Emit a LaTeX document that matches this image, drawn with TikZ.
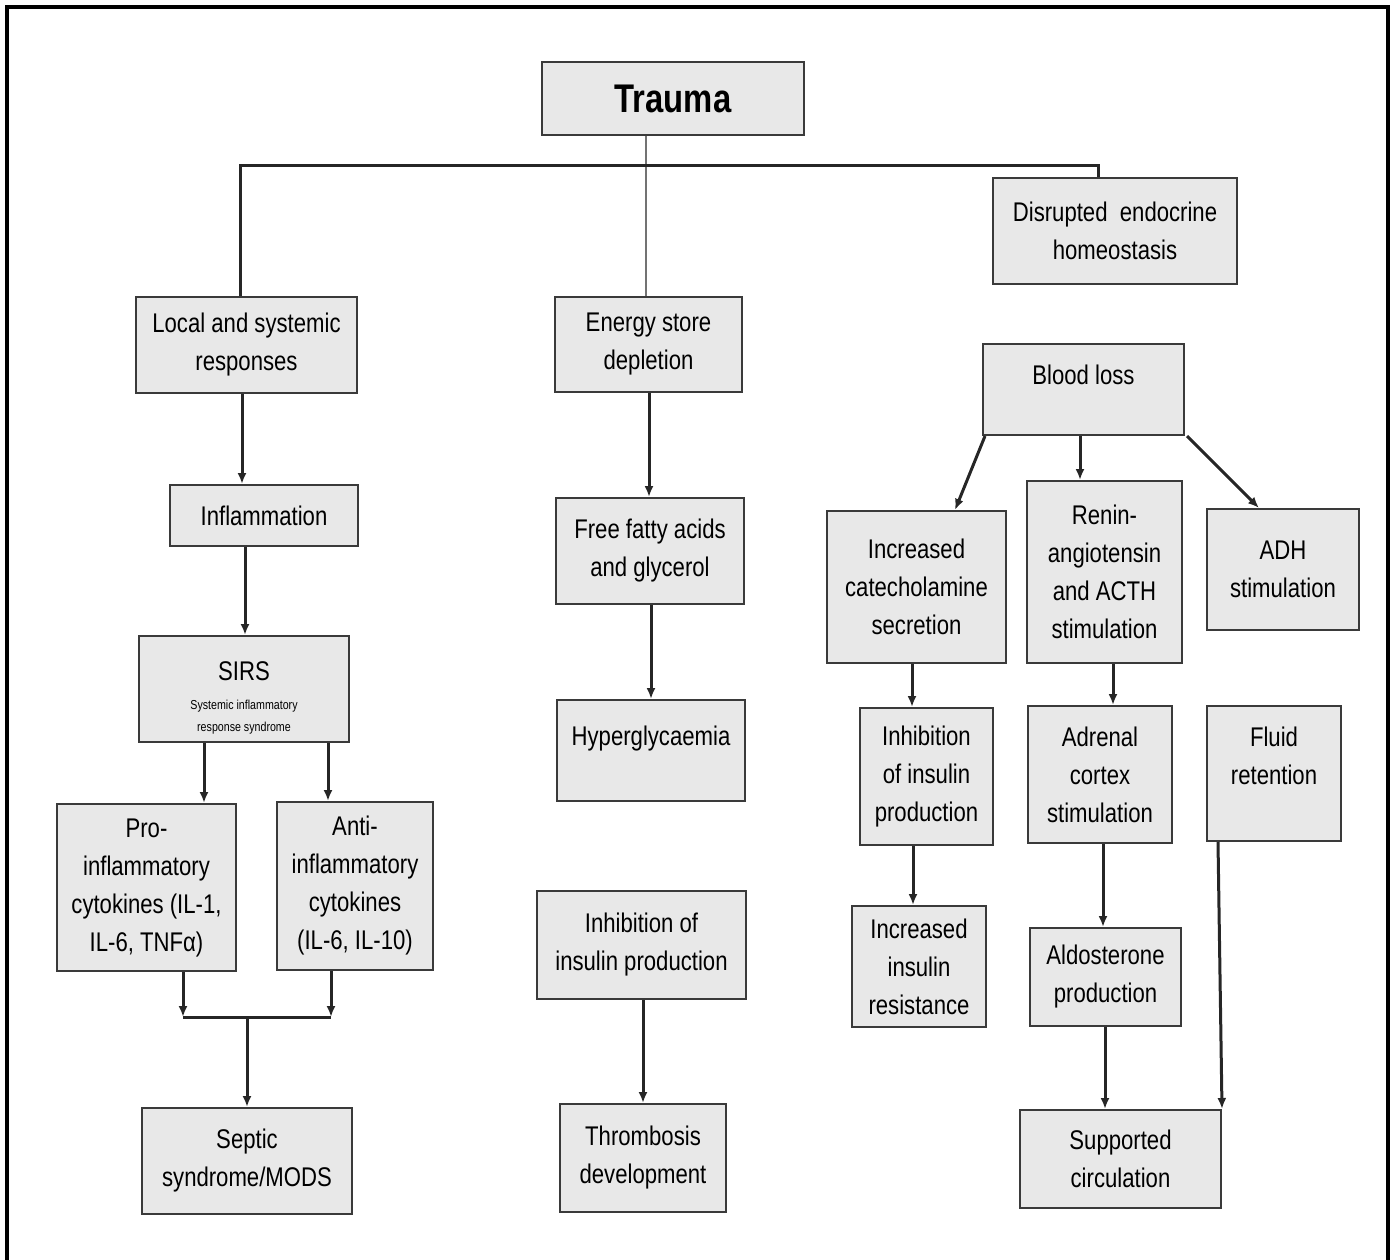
\documentclass[tikz,border=0pt]{standalone}
\usepackage{fontspec}
\setmainfont{Liberation Sans}[FakeStretch=0.82]
\usepackage{tikz}
\usepackage{xcolor}
\usetikzlibrary{arrows.meta,positioning}
\definecolor{boxfill}{HTML}{E8E8E8}
\definecolor{boxline}{HTML}{3A3A3A}

\begin{document}
\begin{tikzpicture}[
  x=1pt, y=-1pt,
  every node/.style={font=\fontsize{27}{38}\selectfont},
  box/.style={draw=boxline, line width=2pt, fill=boxfill, align=center, inner sep=0pt},
  arrow/.style={-{Latex[length=11pt,width=9pt]}, line width=3pt, draw=black!85},
  link/.style={line width=3pt, draw=black!85},
  thin link/.style={line width=1.2pt, draw=black!55}
]
\useasboundingbox (0,0) rectangle (1394,1260);
\draw[line width=3.5pt] (7,7) rectangle (1388,1264);

% top level
\node[box, minimum width=262, minimum height=73, font=\fontsize{40}{44}\selectfont\bfseries] (trauma) at (673,98.5) {Trauma};
\node[box, minimum width=244, minimum height=106] (endo) at (1115,231) {Disrupted\ \ endocrine\\homeostasis};
\node[box, minimum width=221, minimum height=96] (local) at (246.5,345) {Local and systemic\\responses};
\node[box, minimum width=187, minimum height=95] (energy) at (648.5,344.5) {Energy store\\depletion};
\node[box, minimum width=201, minimum height=91] (blood) at (1083.5,389.5) {Blood loss\\[-20pt]\strut};

% left column
\node[box, minimum width=188, minimum height=61] (inflam) at (264,515.5) {Inflammation};
\node[box, minimum width=210, minimum height=106] (sirs) at (244,689) {\strut\\[-28pt]SIRS\\[-9pt]{\fontsize{13}{20}\selectfont Systemic inflammatory}\\[-16pt]{\fontsize{13}{20}\selectfont response syndrome}};
\node[box, minimum width=179, minimum height=167] (pro) at (146.5,887.5) {Pro-\\inflammatory\\cytokines (IL-1,\\IL-6, TNFα)};
\node[box, minimum width=156, minimum height=168] (anti) at (355,886) {Anti-\\inflammatory\\cytokines\\(IL-6, IL-10)};
\node[box, minimum width=210, minimum height=106] (septic) at (247,1161) {Septic\\syndrome/MODS};

% middle column
\node[box, minimum width=188, minimum height=106] (ffa) at (650,551) {Free fatty acids\\and glycerol};
\node[box, minimum width=188, minimum height=101] (hyper) at (651,750.5) {Hyperglycaemia\\[-20pt]\strut};
\node[box, minimum width=209, minimum height=108] (inhibmid) at (641.5,945) {Inhibition of\\insulin production};
\node[box, minimum width=166, minimum height=108] (thromb) at (643,1158) {Thrombosis\\development};

% right columns
\node[box, minimum width=179, minimum height=152] (catech) at (916.5,587) {Increased\\catecholamine\\secretion};
\node[box, minimum width=155, minimum height=182] (renin) at (1104.5,572) {Renin-\\angiotensin\\and ACTH\\stimulation};
\node[box, minimum width=152, minimum height=121] (adh) at (1283,569.5) {ADH\\stimulation};
\node[box, minimum width=133, minimum height=137] (inhibright) at (926.5,776.5) {Inhibition\\of insulin\\production};
\node[box, minimum width=144, minimum height=137] (adrenal) at (1100,774.5) {Adrenal\\cortex\\stimulation};
\node[box, minimum width=134, minimum height=135] (fluid) at (1274,773.5) {Fluid\\retention\\[-14pt]\strut};
\node[box, minimum width=134, minimum height=121] (resist) at (919,966.5) {Increased\\insulin\\resistance};
\node[box, minimum width=151, minimum height=98] (aldo) at (1105.5,977) {Aldosterone\\production};
\node[box, minimum width=201, minimum height=98] (supp) at (1120.5,1159) {Supported\\circulation};

% branches from trauma
\coordinate (split) at (646,166);
\draw[thin link] (trauma.south -| split) -- (energy.north -| split);
\draw[link] (local.north -| 240,0) |- (split) -| (endo.north -| 1098,0);

% left chain
\draw[arrow] (local.south -| 242,0) -- (inflam.north -| 242,0);
\draw[arrow] (inflam.south -| 245,0) -- (sirs.north -| 245,0);
\draw[arrow] (sirs.south -| 204,0) -- (pro.north -| 204,0);
\draw[arrow] (sirs.south -| 328,0) -- (anti.north -| 328,0);
\coordinate (join) at (247,1017);
\draw[arrow] (pro.south -| 183,0) -- (183,1017);
\draw[arrow] (anti.south -| 331,0) -- (331,1017);
\draw[link] (183,1017) -- (331,1017);
\draw[arrow] (join) -- (septic.north -| join);

% middle chain
\draw[arrow] (energy.south -| 649,0) -- (ffa.north -| 649,0);
\draw[arrow] (ffa.south -| 651,0) -- (hyper.north -| 651,0);
\draw[arrow] (inhibmid.south -| 643,0) -- (thromb.north -| 643,0);

% blood loss chain
\draw[arrow] (blood.south west) ++(3,0) -- (catech.north -| 955,0);
\draw[arrow] (blood.south -| 1080,0) -- (renin.north -| 1080,0);
\draw[arrow] (blood.south east) ++(2,0) -- (adh.north -| 1259,0);
\draw[arrow] (catech.south -| 912,0) -- (inhibright.north -| 912,0);
\draw[arrow] (inhibright.south -| 913,0) -- (resist.north -| 913,0);
\draw[arrow] (renin.south -| 1113,0) -- (adrenal.north -| 1113,0);
\draw[arrow] (adrenal.south -| 1103,0) -- (aldo.north -| 1103,0);
\draw[arrow] (aldo.south -| 1105,0) -- (supp.north -| 1105,0);
\draw[arrow] (fluid.south -| 1218,0) -- (supp.north east);
\end{tikzpicture}
\end{document}
